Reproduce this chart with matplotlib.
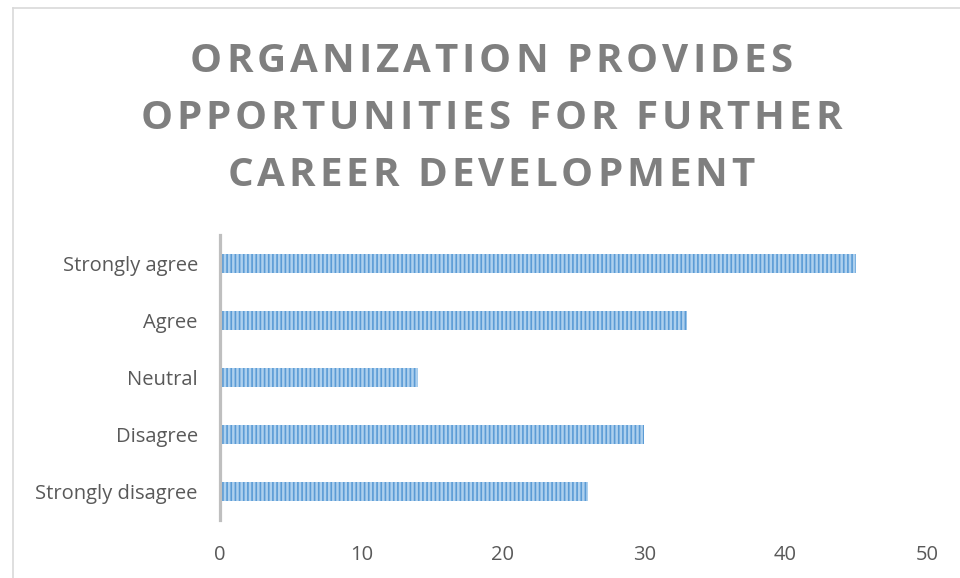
import matplotlib
matplotlib.use("Agg")
import matplotlib.pyplot as plt
from matplotlib.lines import Line2D

# Survey answers, bottom to top as drawn
categories = ["Strongly disagree", "Disagree", "Neutral", "Agree", "Strongly agree"]
values = [26, 30, 14, 33, 45]
x_ticks = [0, 10, 20, 30, 40, 50]
title_lines = ["ORGANIZATION PROVIDES",
               "OPPORTUNITIES FOR FURTHER",
               "CAREER DEVELOPMENT"]

W, H = 960, 578
plt.rcParams["font.family"] = ["Open Sans", "DejaVu Sans"]
plt.rcParams["hatch.linewidth"] = 1.2
plt.rcParams["hatch.color"] = "#5B9BD5"

fig = plt.figure(figsize=(W / 100, H / 100), dpi=100)
ax = fig.add_axes([220 / W, 1 - 520 / H, 707 / W, 285 / H])

ax.barh(categories, values, height=0.32, color="#ADD0EE",
        edgecolor="#5B9BD5", linewidth=0, hatch="||||")

ax.set_xlim(0, 50)
ax.set_ylim(-0.5, len(categories) - 0.5)
ax.set_xticks(x_ticks)
ax.tick_params(axis="x", length=0, pad=18, labelsize=14.5, labelcolor="#595959")
ax.tick_params(axis="y", length=0, pad=16, labelsize=14.5, labelcolor="#595959")
for s in ["top", "right", "bottom"]:
    ax.spines[s].set_visible(False)
ax.spines["left"].set_color("#BFBFBF")
ax.spines["left"].set_linewidth(2.3)

# light frame of the chart area (cut off at right and bottom)
fig.add_artist(Line2D([12.5 / W, 12.5 / W], [0, 1 - 7.5 / H],
                      transform=fig.transFigure, color="#D9D9D9", lw=1.2))
fig.add_artist(Line2D([12.5 / W, 1], [1 - 7.5 / H, 1 - 7.5 / H],
                      transform=fig.transFigure, color="#D9D9D9", lw=1.2))

# title with letter spacing, drawn one character at a time
renderer = fig.canvas.get_renderer()
tprops = dict(fontsize=29, fontweight="bold", color="#7F7F7F",
              family=["Open Sans", "DejaVu Sans"])


def char_width(c):
    if c == " ":
        a = fig.text(0, 0, "N N", **tprops)
        b = fig.text(0, 0, "NN", **tprops)
        w = a.get_window_extent(renderer).width - b.get_window_extent(renderer).width
        a.remove()
        b.remove()
        return w
    t = fig.text(0, 0, c, **tprops)
    w = t.get_window_extent(renderer).width
    t.remove()
    return w


tracking = None
baselines = [72, 129, 186]
for line, base in zip(title_lines, baselines):
    widths = [char_width(c) for c in line]
    if tracking is None:
        tracking = (602 - sum(widths)) / (len(line) - 1)
    total = sum(widths) + tracking * (len(line) - 1)
    x = 491 - total / 2
    for c, w in zip(line, widths):
        if c != " ":
            fig.text(x / W, 1 - base / H, c, ha="left", va="baseline", **tprops)
        x += w + tracking

fig.savefig("out.png", dpi=100)
